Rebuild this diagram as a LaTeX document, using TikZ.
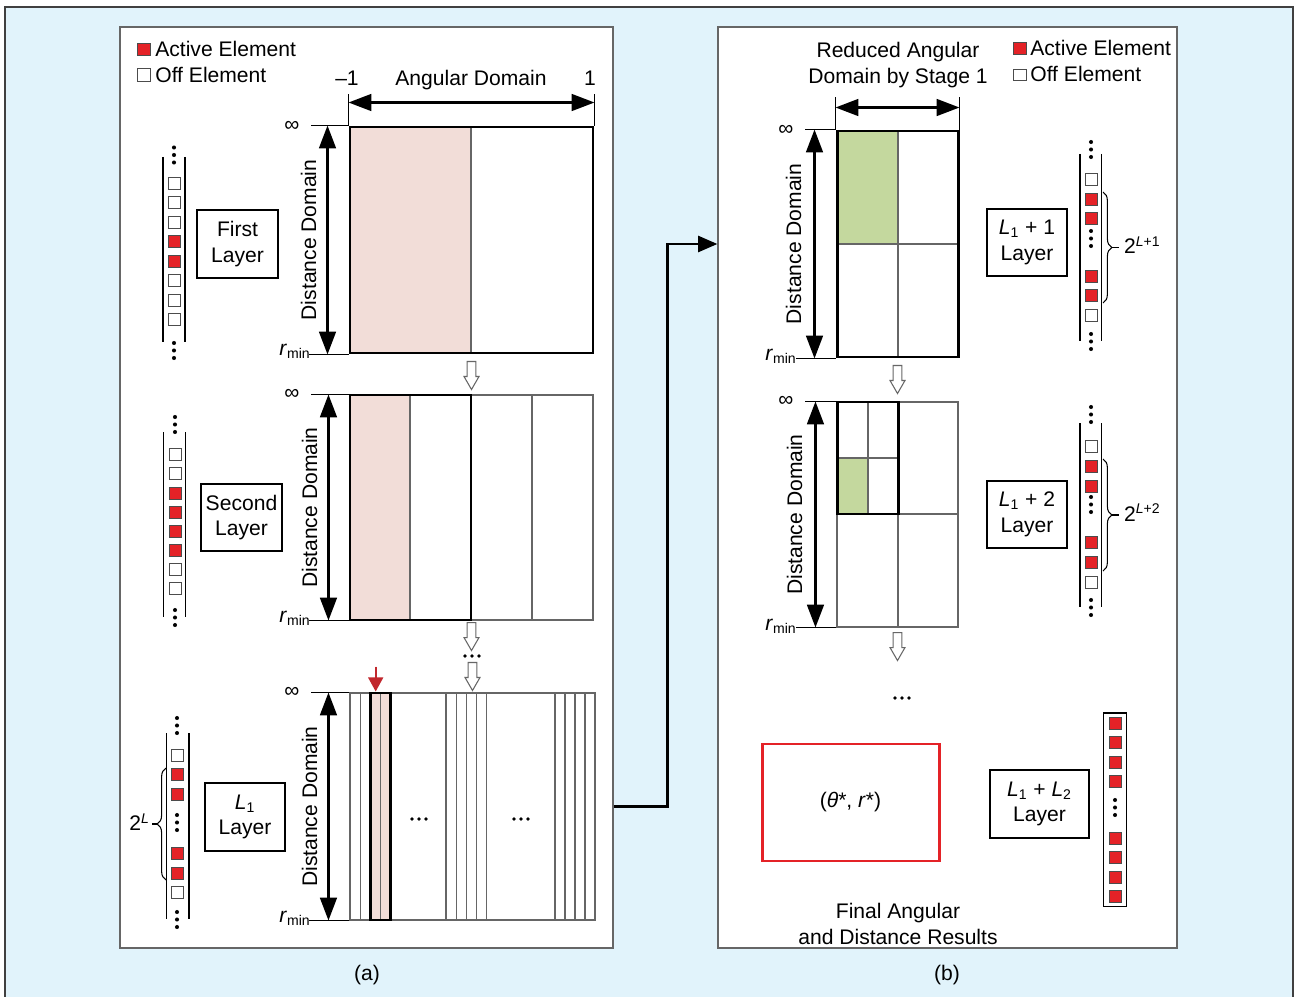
\documentclass[tikz,border=0pt]{standalone}
\usepackage{fontspec}
\setmainfont{Liberation Sans}
\usepackage{tikz}
\usetikzlibrary{arrows.meta, positioning, fit, calc, decorations.pathreplacing}

\definecolor{FigBlue}{HTML}{E1F3FB}
\definecolor{ActiveRed}{HTML}{E42227}
\definecolor{ArrowRed}{HTML}{C1272D}
\definecolor{BeamPink}{HTML}{F2DDD8}
\definecolor{BeamGreen}{HTML}{C4D89E}
\definecolor{GridGray}{HTML}{666666}

% three dots in a column / in a row
\newcommand{\vdotcol}[2]{\foreach \dy in {0,7.5,15}{\fill ({#1},{#2+\dy}) circle[radius=1.15pt];}}
\newcommand{\hdotrow}[2]{\foreach \dx in {-7,0,7}{\fill ({#1+\dx},{#2}) circle[radius=1.1pt];}}

\tikzset{
    % frame and panels
    frame/.style={draw=black!75, fill=FigBlue, line width=0.9pt},
    panel/.style={draw=GridGray, fill=white, line width=0.6pt, inner sep=0pt},
    % boxes
    layer box/.style={
        rectangle,
        draw=black,
        line width=1.1pt,
        minimum width=46pt,
        minimum height=38.5pt,
        inner sep=0pt,
        align=center
    },
    sel box/.style={rectangle, draw=black, line width=1.7pt, inner sep=0pt},
    grid box/.style={rectangle, draw=GridGray, line width=0.6pt, inner sep=0pt},
    final box/.style={rectangle, draw=ActiveRed, line width=1.7pt, inner sep=0pt},
    gridline/.style={draw=GridGray, line width=0.6pt},
    tick/.style={draw=black, line width=0.6pt},
    legend/.style={anchor=west, inner sep=0pt},
    % antenna elements
    elem on/.style={fill=ActiveRed, draw=black!70, line width=0.4pt},
    elem off/.style={fill=white, draw=black!70, line width=0.5pt},
    array line/.style={draw=black, line width=0.8pt},
    brace/.style={decorate, decoration={brace, amplitude=5pt}, line width=0.6pt},
    % arrows
    dom arrow/.style={<->, >={Triangle[length=13pt,width=9.5pt]}, line width=1.4pt},
    link/.style={->, >={Triangle[length=11pt,width=9pt]}, line width=1.7pt},
    red arrow/.style={->, >={Triangle[length=8pt,width=8.5pt]}, draw=ArrowRed, fill=ArrowRed, line width=1pt},
    open arrow/.style={draw=black!60, fill=white, line width=0.6pt},
    openarrow/.pic={
        \draw[open arrow] (-4.3,0) -- (-4.3,15) -- (-7.5,15) -- (0,28) -- (7.5,15) -- (4.3,15) -- (4.3,0) -- cycle;
    }
}

\begin{document}
\begin{tikzpicture}[x=0.02cm, y=-0.02cm, font=\fontsize{12}{14.7}\selectfont]
    \useasboundingbox (0,0) rectangle (1299,997);

    % Background and panels
    \draw[frame] (5,7) rectangle (1293,1010);
    \node[panel, fit={(120,27) (613,948)}] (panelA) {};
    \node[panel, fit={(718,27) (1177,948)}] (panelB) {};
    \node (capA) at (367,975) {(a)};
    \node (capB) at (947,975) {(b)};

    % Legend (a)
    \draw[elem on] (137,43) rectangle (150,55);
    \node[legend] (activeA) at (155,48.5) {Active Element};
    \draw[elem off] (137,68.5) rectangle (150,81);
    \node[legend] (offA) at (155,74.5) {Off Element};

    % First layer
    \fill[BeamPink] (350,127) rectangle (471,353);
    \draw[gridline] (471,127) -- (471,353);
    \node[sel box, fit={(350,127) (593,353)}] (grid1) {};
    \draw[tick] (grid1.north west) -- ++(0,-32);
    \draw[tick] (grid1.north east) -- ++(0,-32);
    \draw[dom arrow] ($(grid1.north west)+(0,-23)$) -- ($(grid1.north east)+(0,-23)$);
    \node (mone) at (347,78) {--1};
    \node (one) at (590,78) {1};
    \node (angdom) at (471,80) {Angular Domain};
    \draw[tick] (grid1.north west) -- ++(-38,0);
    \draw[tick] (grid1.south west) -- ++(-40,0);
    \node (inf1) at (292,126) {∞};
    \node[anchor=east, inner sep=0pt] (rmin1) at (311,351) {\textit{r}\textsubscript{min}};
    \draw[dom arrow] ($(grid1.north west)+(-21,0)$) -- ($(grid1.south west)+(-21,0)$);
    \node[rotate=90] (dist1) at ($(grid1.west)+(-40,0)$) {Distance Domain};
    \node[layer box] (lay1) at (237.5,244) {First\\Layer};
    \draw[array line] (163,157) -- (163,342) (185,157) -- (185,342);
    \foreach \s [count=\i from 0] in {off,off,off,on,on,off,off,off}
        \draw[elem \s] (168,{177+19.5*\i}) rectangle ++(12,12);
    \vdotcol{174}{147.5}
    \vdotcol{174}{343}
    \pic at ($(grid1.south)+(0,7)$) {openarrow};

    % Second layer
    \fill[BeamPink] (350,395) rectangle (410,620);
    \node[grid box, fit={(350,395) (593,620)}] (grid2) {};
    \draw[gridline] (410,395) -- (410,620) (532,395) -- (532,620);
    \node[sel box, fit={(350,395) (471,620)}] (grid2sel) {};
    \draw[tick] (grid2.north west) -- ++(-38,0);
    \draw[tick] (grid2.south west) -- ++(-40,0);
    \node (inf2) at (292,394) {∞};
    \node[anchor=east, inner sep=0pt] (rmin2) at (311,618) {\textit{r}\textsubscript{min}};
    \draw[dom arrow] ($(grid2.north west)+(-21,0)$) -- ($(grid2.south west)+(-21,0)$);
    \node[rotate=90] (dist2) at ($(grid2.west)+(-40,0)$) {Distance Domain};
    \node[layer box] (lay2) at (241.5,517.5) {Second\\Layer};
    \draw[array line] (163.5,432) -- (163.5,617) (185.5,432) -- (185.5,617);
    \foreach \s [count=\i from 0] in {off,off,on,on,on,on,off,off}
        \draw[elem \s] (169,{448.5+19.2*\i}) rectangle ++(12,12);
    \vdotcol{175}{417}
    \vdotcol{175}{610}
    \pic at ($(grid2.south)+(0,2)$) {openarrow};
    \hdotrow{472}{656}

    % L1 layer
    \fill[BeamPink] (370.7,693) rectangle (390.7,920);
    \node[grid box, fit={(350,693) (595,920)}] (grid3) {};
    \foreach \x in {360.7,380.7,446,456.7,466.7,476.7,486.7,555,565,575,585}
        \draw[gridline] (\x,693) -- (\x,920);
    \node[sel box, fit={(370.7,693) (390.7,920)}] (grid3sel) {};
    \hdotrow{419}{819}
    \hdotrow{521}{819}
    \pic at ($(grid3.north)+(0,-30)$) {openarrow};
    \draw[red arrow] ($(grid3sel.north)+(-5,-25)$) -- ($(grid3sel.north)+(-5,0)$);
    \draw[tick] (grid3.north west) -- ++(-38,0);
    \draw[tick] (grid3.south west) -- ++(-40,0);
    \node (inf3) at (292,692) {∞};
    \node[anchor=east, inner sep=0pt] (rmin3) at (311,918) {\textit{r}\textsubscript{min}};
    \draw[dom arrow] ($(grid3.north west)+(-21,0)$) -- ($(grid3.south west)+(-21,0)$);
    \node[rotate=90] (dist3) at ($(grid3.west)+(-40,0)$) {Distance Domain};
    \node[layer box] (lay3) at (245,817) {\textit{L}\textsubscript{1}\\Layer};
    \draw[array line] (166.7,733) -- (166.7,919) (189,733) -- (189,919);
    \foreach \s/\y in {off/749,on/768.5,on/788,on/847.5,on/867,off/886.5}
        \draw[elem \s] (171,\y) rectangle ++(12,12);
    \vdotcol{177}{718}
    \vdotcol{177}{815}
    \vdotcol{177}{912}
    \draw[brace] (166,880) -- (166,768);
    \draw[tick] (157,824) -- (152,824);
    \node[anchor=east, inner sep=1pt] (twoL) at (152,822) {2\textsuperscript{\textit{L}}};

    % Legend (b)
    \draw[elem on] (1013.5,42.5) rectangle (1026,54.5);
    \node[legend] (activeB) at (1030,48) {Active Element};
    \draw[elem off] (1013.5,69) rectangle (1026,80.5);
    \node[legend] (offB) at (1030,74) {Off Element};
    \node[align=center] (reduced) at (898,65) {Reduced Angular\\Domain by Stage 1};

    % L1 + 1 layer
    \fill[BeamGreen] (837,131) rectangle (898,244);
    \draw[gridline] (898,131) -- (898,357) (837,244) -- (958,244);
    \node[sel box, fit={(837,131) (958,357)}] (rgrid1) {};
    \draw[tick] (rgrid1.north west) -- ++(0,-33);
    \draw[tick] (rgrid1.north east) -- ++(0,-33);
    \draw[dom arrow] ($(rgrid1.north west)+(0,-22)$) -- ($(rgrid1.north east)+(0,-22)$);
    \draw[tick] (rgrid1.north west) -- ++(-31,0);
    \draw[tick] (rgrid1.south west) -- ++(-40,0);
    \node (rinf1) at (786,130) {∞};
    \node[anchor=east, inner sep=0pt] (rrmin1) at (797,356) {\textit{r}\textsubscript{min}};
    \draw[dom arrow] ($(rgrid1.north west)+(-21,0)$) -- ($(rgrid1.south west)+(-21,0)$);
    \node[rotate=90] (rdist1) at ($(rgrid1.west)+(-42,0)$) {Distance Domain};
    \node[layer box] (rlay1) at (1027,242.5) {\textit{L}\textsubscript{1} + 1\\Layer};
    \draw[array line] (1080,154) -- (1080,341) (1101.7,154) -- (1101.7,341);
    \foreach \s/\y in {off/173.5,on/193,on/212.5,on/270,on/289.5,off/309}
        \draw[elem \s] (1085,\y) rectangle ++(12,12);
    \vdotcol{1091}{142}
    \vdotcol{1091}{231}
    \vdotcol{1091}{334}
    \draw[brace] (1103,192) -- (1103,303);
    \draw[tick] (1112,247.5) -- (1119,247.5);
    \node[anchor=west, inner sep=1pt] (twoL1) at (1122,245) {2\textsuperscript{\textit{L}+1}};
    \pic at ($(rgrid1.south)+(0,7)$) {openarrow};

    % Stage 1 to stage 2
    \draw[link] (grid3.east -| panelA.east) -- ++(54,0) |- (rgrid1.west -| panelB.west);

    % L1 + 2 layer
    \fill[BeamGreen] (837,458) rectangle (868,514);
    \node[grid box, fit={(837,402) (958,627)}] (rgrid2) {};
    \draw[gridline] (898,402) -- (898,627) (837,514) -- (958,514);
    \draw[gridline] (868,402) -- (868,514) (837,458) -- (898,458);
    \node[sel box, fit={(837,402) (898,514)}] (rgrid2sel) {};
    \draw[tick] (rgrid2.north west) -- ++(-31,0);
    \draw[tick] (rgrid2.south west) -- ++(-40,0);
    \node (rinf2) at (786,401) {∞};
    \node[anchor=east, inner sep=0pt] (rrmin2) at (797,626) {\textit{r}\textsubscript{min}};
    \draw[dom arrow] ($(rgrid2.north west)+(-21,0)$) -- ($(rgrid2.south west)+(-21,0)$);
    \node[rotate=90] (rdist2) at ($(rgrid2.west)+(-42,0)$) {Distance Domain};
    \node[layer box] (rlay2) at (1027,514.5) {\textit{L}\textsubscript{1} + 2\\Layer};
    \draw[array line] (1080,423) -- (1080,607) (1101.7,423) -- (1101.7,607);
    \foreach \s/\y in {off/440,on/460,on/480,on/536.5,on/556.5,off/576}
        \draw[elem \s] (1085,\y) rectangle ++(12,12);
    \vdotcol{1091}{407}
    \vdotcol{1091}{497}
    \vdotcol{1091}{600}
    \draw[brace] (1103,459) -- (1103,571);
    \draw[tick] (1112,515) -- (1119,515);
    \node[anchor=west, inner sep=1pt] (twoL2) at (1122,512.5) {2\textsuperscript{\textit{L}+2}};
    \pic at ($(rgrid2.south)+(0,5)$) {openarrow};
    \hdotrow{902}{698}

    % L1 + L2 layer
    \node[final box, fit={(762,744) (939,861)}] (final) {};
    \node (result) at (final.center) {(\textit{θ}*, \textit{r}*)};
    \node[layer box, minimum width=56pt] (rlay3) at (1039.5,804) {\textit{L}\textsubscript{1} + \textit{L}\textsubscript{2}\\Layer};
    \draw[array line, line width=1.1pt] (1103.5,713) rectangle (1126.5,906.5);
    \foreach \y in {717,736.5,756,775.5,832,851.5,871,890.5}
        \draw[elem on] (1109,\y) rectangle ++(12.5,12);
    \vdotcol{1115}{800}
    \node[align=center] (finaltext) at (898,924) {Final Angular\\and Distance Results};
\end{tikzpicture}
\end{document}
